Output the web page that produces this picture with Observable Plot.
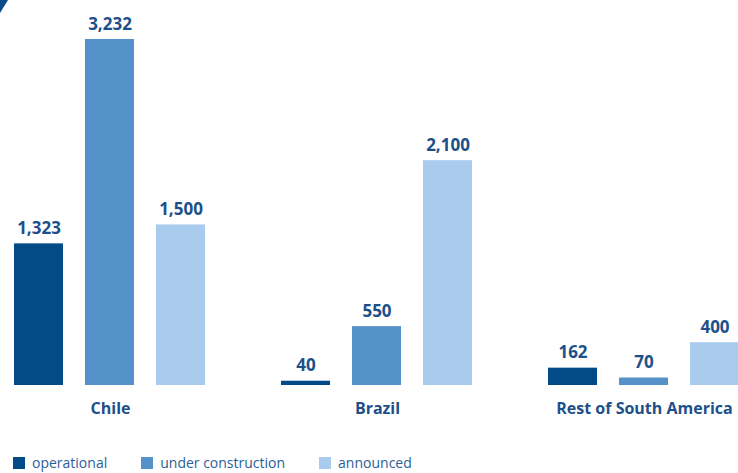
<!DOCTYPE html>
<html>
<head>
<meta charset="utf-8">
<script src="https://cdn.jsdelivr.net/npm/d3@7"></script>
<script src="https://cdn.jsdelivr.net/npm/@observablehq/plot@0.6"></script>
<style>
  html, body { margin: 0; padding: 0; background: #fff; overflow: hidden; }
  #wrap { position: relative; width: 738px; height: 473px; overflow: hidden; }
  #corner { position: absolute; left: 0; top: 0; width: 8px; height: 13px; background: #0a4a86; clip-path: polygon(0 0, 100% 0, 0 100%); }
  #legend { position: absolute; left: 13px; top: 453px; display: flex; gap: 34px; font-family: "Open Sans", sans-serif; font-size: 14px; color: #2b5e97; }
  .item { display: flex; align-items: center; gap: 7px; white-space: nowrap; }
  .sw { width: 12px; height: 12px; display: inline-block; }
</style>
</head>
<body>
<div id="wrap">
  <div id="chart"></div>
  <div id="corner"></div>
  <div id="legend"></div>
</div>
<script>
const regions = ["Chile", "Brazil", "Rest of South America"];
const series = ["operational", "under construction", "announced"];
const colors = ["#024b88", "#5592c9", "#a9cbed"];
const operational = [1323, 40, 162];
const underConstruction = [3232, 550, 70];
const announced = [1500, 2100, 400];

const valuesBySeries = [operational, underConstruction, announced];
const data = [];
regions.forEach((r, i) => {
  series.forEach((s, j) => {
    data.push({region: r, series: s, value: valuesBySeries[j][i]});
  });
});

const fmt = d3.format(",");

const chart = Plot.plot({
  width: 738,
  height: 430,
  marginLeft: 13,
  marginRight: -4,
  marginTop: 39,
  marginBottom: 45,
  style: {fontFamily: "'Open Sans', sans-serif", background: "transparent"},
  fx: {domain: regions, paddingInner: 0.273, paddingOuter: 0, label: null},
  x: {domain: series, paddingInner: 0.305, paddingOuter: 0, axis: null},
  y: {domain: [0, 3232], axis: null},
  color: {domain: series, range: colors},
  marks: [
    Plot.barY(data, {fx: "region", x: "series", y: "value", fill: "series"}),
    Plot.text(data, {fx: "region", x: "series", y: "value", text: d => fmt(d.value),
      lineAnchor: "bottom", dy: -10, fontSize: 17, fontWeight: "bold", fill: "#1d508a"}),
    Plot.axisFx({anchor: "bottom", tickSize: 0, tickPadding: 17, fontSize: 16, fontWeight: "bold", fill: "#1d508a", label: null})
  ]
});
document.getElementById("chart").appendChild(chart);

const legend = document.getElementById("legend");
series.forEach((s, j) => {
  const item = document.createElement("div");
  item.className = "item";
  const sw = document.createElement("span");
  sw.className = "sw";
  sw.style.background = colors[j];
  const t = document.createElement("span");
  t.textContent = s;
  item.appendChild(sw);
  item.appendChild(t);
  legend.appendChild(item);
});
</script>
</body>
</html>
